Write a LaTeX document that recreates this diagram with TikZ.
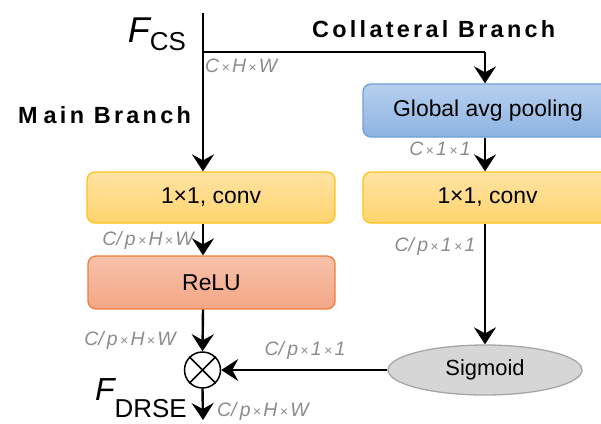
\documentclass[tikz,border=0pt]{standalone}
\usepackage{fontspec}
\setmainfont{Liberation Sans}
\newfontfamily\branchfont[LetterSpace=14]{Liberation Sans}
\usetikzlibrary{arrows.meta,shapes.geometric}
\definecolor{dimgray}{HTML}{8C8C8C}
\definecolor{convtop}{HTML}{FFE3A3}
\definecolor{convbot}{HTML}{FFD46E}
\definecolor{convline}{HTML}{FFC21A}
\definecolor{pooltop}{HTML}{B6D0EE}
\definecolor{poolbot}{HTML}{8DB3E2}
\definecolor{poolline}{HTML}{6E9FD8}
\definecolor{relutop}{HTML}{F8C2AB}
\definecolor{relubot}{HTML}{F3A685}
\definecolor{reluline}{HTML}{EE7E3E}
\definecolor{sigfill}{HTML}{D6D6D6}
\definecolor{sigline}{HTML}{A6A6A6}
\newcommand{\tms}{{\fontsize{14}{14}\selectfont\,×\,}}
\tikzset{
  blockbox/.style={rounded corners=8bp, line width=1.3bp, inner sep=0pt,
    font=\fontsize{23}{23}\selectfont},
  convbox/.style={blockbox, draw=convline, top color=convtop, bottom color=convbot},
  poolbox/.style={blockbox, draw=poolline, top color=pooltop, bottom color=poolbot},
  relubox/.style={blockbox, draw=reluline, top color=relutop, bottom color=relubot},
  sigbox/.style={ellipse, draw=sigline, line width=1.3bp, fill=sigfill, inner sep=0pt,
    minimum width=194bp, minimum height=50bp, font=\fontsize{22}{22}\selectfont},
  flow/.style={line width=2.4bp, -{Stealth[length=17bp, width=22bp, inset=6bp]}},
  wire/.style={line width=2.4bp},
  dimlabel/.style={text=dimgray, font=\fontsize{19.5}{19.5}\selectfont\itshape, inner sep=0pt},
  branchlabel/.style={font=\branchfont\bfseries\fontsize{23.5}{23.5}\selectfont, inner sep=0pt}
}
\begin{document}
\begin{tikzpicture}[x=1bp, y=-1bp]
\clip (0,0) rectangle (601,423);

% processing blocks
\node[convbox, minimum width=248bp, minimum height=51bp] (conv1) at (211,197.5) {1×1, conv};
\node[relubox, minimum width=247bp, minimum height=53bp] (relu) at (211.5,282.5) {ReLU};
\node[poolbox, minimum width=250bp, minimum height=53bp] (pool) at (488,110.5) {Global avg pooling};
\node[convbox, minimum width=249bp, minimum height=51bp] (conv2) at (487.5,197.5) {1×1, conv};
\node[sigbox] (sig) at (485,370) {Sigmoid};

% element-wise product
\node[circle, draw, line width=1.5bp, minimum size=36bp, inner sep=0pt] (mul) at (202.5,370) {};
\draw[line width=1.5bp] (mul.north west) -- (mul.south east) (mul.north east) -- (mul.south west);

% connectors
\coordinate (top) at (203,13);
\coordinate (split) at (203,52);
\coordinate (corner) at (485,52);
\coordinate (out) at (203,420);
\draw[flow] (top) -- (top |- conv1.north);
\draw[wire] (split) -- (corner);
\draw[flow] (corner) -- (corner |- pool.north);
\draw[flow] (corner |- pool.south) -- (corner |- conv2.north);
\draw[flow] (corner |- conv2.south) -- (sig.north);
\draw[flow] (top |- conv1.south) -- (top |- relu.north);
\draw[flow] (top |- relu.south) -- (mul.north);
\draw[flow] (sig.west) -- (mul.east);
\draw[flow] (mul.south) -- (out);

% titles
\node[anchor=base east, inner sep=0pt] (fcs) at (186,42)
  {{\fontsize{36}{36}\selectfont\itshape F}\raisebox{-8bp}{\fontsize{26}{26}\selectfont CS}};
\node[anchor=base west, inner sep=0pt] (fdrse) at (95,400)
  {{\fontsize{32}{32}\selectfont\itshape F}\raisebox{-17bp}{\fontsize{26}{26}\selectfont DRSE}};
\node[branchlabel, anchor=base west] (coll) at (312,37) {Collateral Branch};
\node[branchlabel, anchor=base west] (mainb) at (18,123) {M\kern6bp ain Branch};

% tensor shapes
\node[dimlabel, anchor=west] (d1) at (205,66) {C\tms H\tms W};
\node[dimlabel] (d2) at (440,149) {C\tms 1\tms 1};
\node[dimlabel] (d3) at (148,240) {C/\,p\tms H\tms W};
\node[dimlabel] (d4) at (435,246) {C/\,p\tms 1\tms 1};
\node[dimlabel] (d5) at (130,340) {C/\,p\tms H\tms W};
\node[dimlabel] (d6) at (305,350) {C/\,p\tms 1\tms 1};
\node[dimlabel, anchor=west] (d7) at (217,411) {C/\,p\tms H\tms W};
\end{tikzpicture}
\end{document}
